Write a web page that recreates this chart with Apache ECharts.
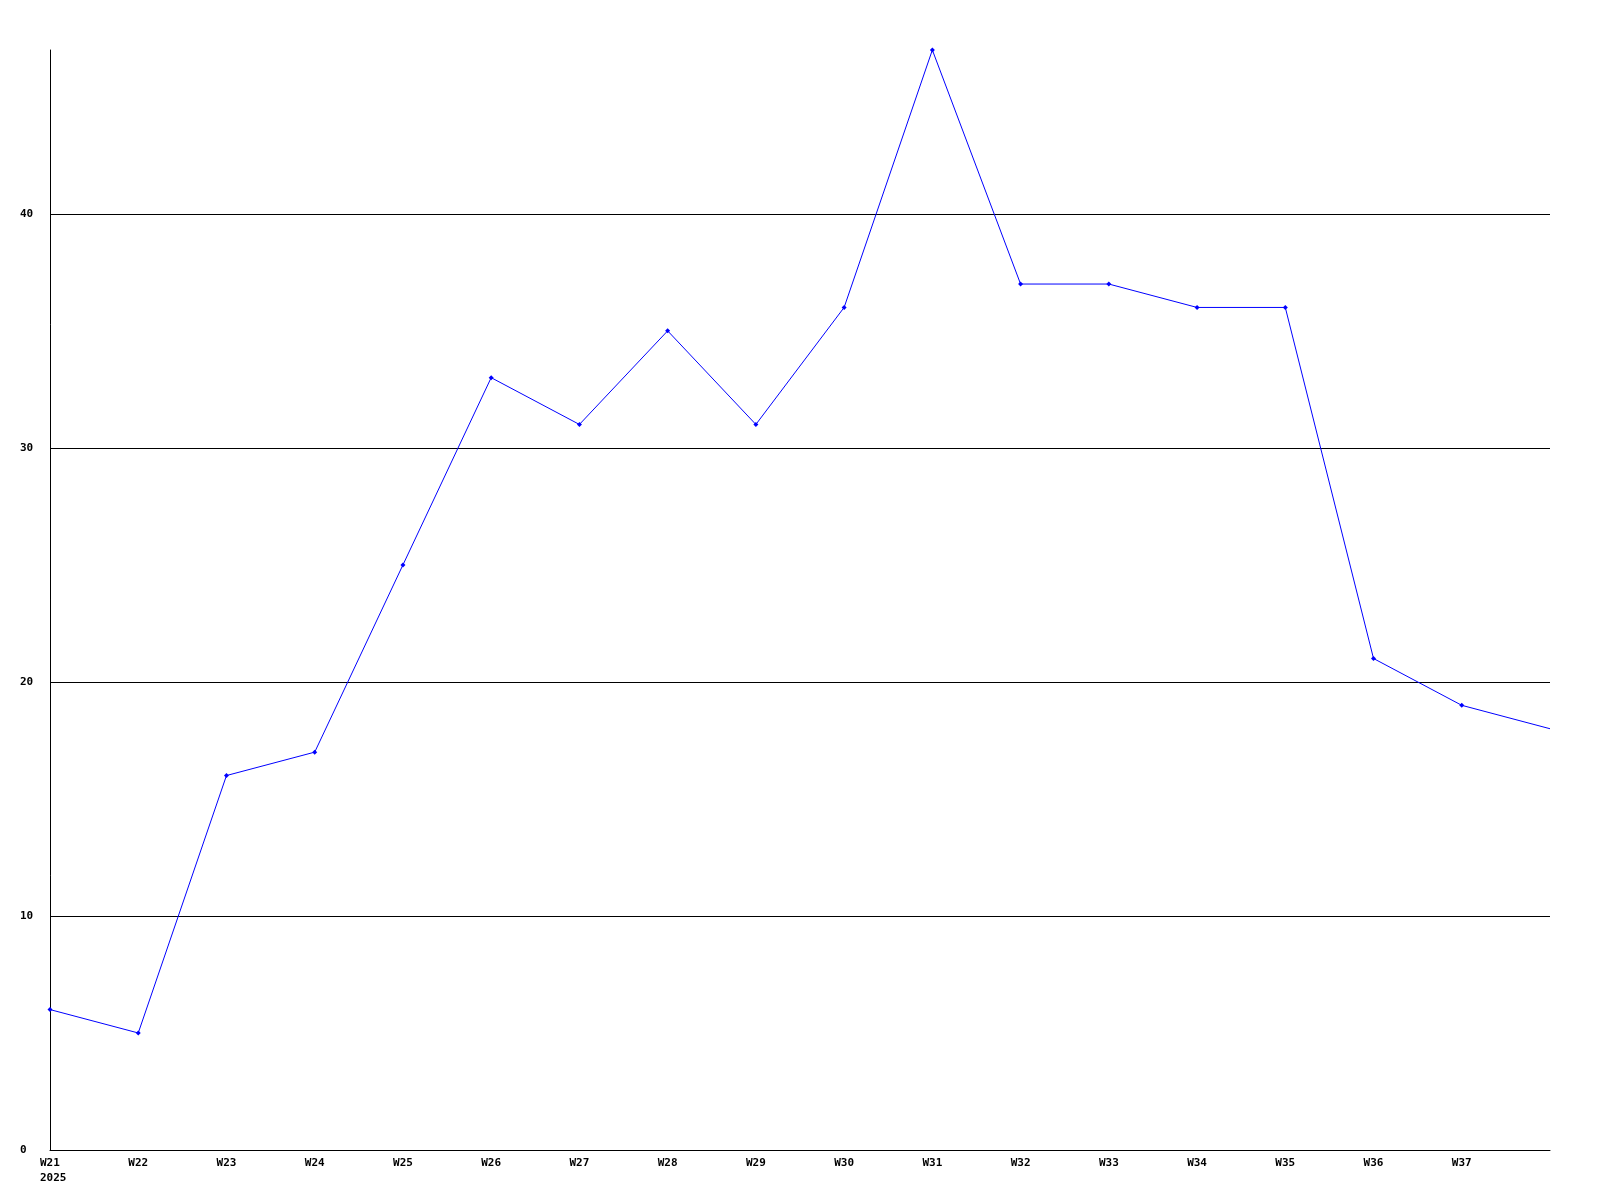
<!DOCTYPE html>
<html><head><meta charset="utf-8">
<script src="https://cdn.jsdelivr.net/npm/echarts@6/dist/echarts.min.js"></script>
<style>html,body{margin:0;padding:0;background:#fff}#c{width:1600px;height:1200px}</style>
</head><body><div id="c"></div>
<script>
const weeks = ['W21','W22','W23','W24','W25','W26','W27','W28','W29','W30','W31','W32','W33','W34','W35','W36','W37','W38'];
const values = [6,5,16,17,25,33,31,35,31,36,47,37,37,36,36,21,19,18];
const yearLabel = '2025';
const yTicks = [0,10,20,30,40];

const font = {fontFamily:'DejaVu Sans Mono', fontWeight:'bold', fontSize:11, color:'#000'};
const chart = echarts.init(document.getElementById('c'), null, {renderer:'canvas'});
chart.setOption({
  animation:false,
  backgroundColor:'#fff',
  grid:{left:50,right:50,top:50,bottom:50},
  xAxis:{
    type:'category', data:weeks, boundaryGap:false,
    axisLine:{lineStyle:{color:'#000',width:1}},
    axisTick:{show:false},
    splitLine:{show:false},
    axisLabel:Object.assign({}, font, {
      margin:6,
      interval:0,
      showMaxLabel:false,
      formatter:function(v,i){ if(i===weeks.length-1) return ''; return i===0 ? '{a|'+v+'}\n{a|'+yearLabel+'}' : '{b|'+v+'}'; },
      rich:{
        a:Object.assign({}, font, {width:20, align:'left', lineHeight:15}),
        b:Object.assign({}, font, {lineHeight:15})
      }
    })
  },
  yAxis:{
    type:'value', min:0, max:47, interval:10,
    axisLine:{show:true,lineStyle:{color:'#000',width:1}},
    axisTick:{show:false},
    splitLine:{show:true,showMaxLine:false,lineStyle:{color:'#000',width:1}},
    axisLabel:Object.assign({}, font, {
      align:'left', margin:30,
      formatter:function(v){ return yTicks.indexOf(v)>=0 ? String(v) : ''; }
    })
  },
  series:[{
    type:'line',
    data:values.map(function(v,i){ return i===values.length-1 ? {value:v, symbol:'none'} : v; }),
    lineStyle:{color:'#0000ff',width:1},
    itemStyle:{color:'#0000ff'},
    symbol:'diamond', symbolSize:5, showSymbol:true
  }]
});
</script></body></html>
